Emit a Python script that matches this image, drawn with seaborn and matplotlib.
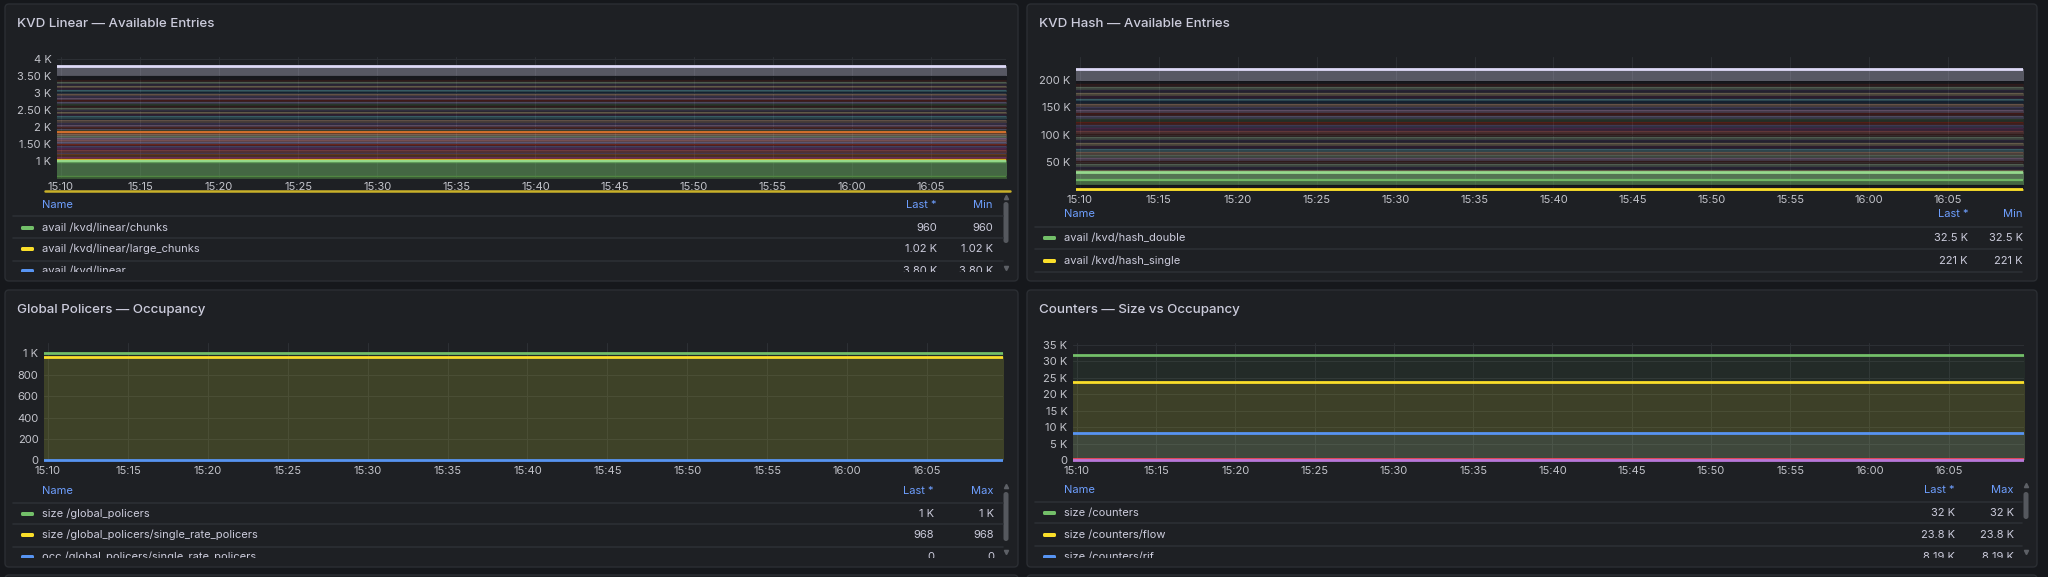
import numpy as np
import pandas as pd
import matplotlib
matplotlib.use("Agg")
import matplotlib.pyplot as plt
import matplotlib.dates as mdates
from matplotlib.ticker import FixedLocator, FixedFormatter
from matplotlib.patches import FancyBboxPatch
import seaborn as sns

W, H = 2048, 577

# ---- data (all series are flat over the hour) ----
t0 = pd.Timestamp("2024-05-14 15:09:45")
t1 = pd.Timestamp("2024-05-14 16:09:45")
times = pd.date_range("2024-05-14 15:09:00", "2024-05-14 16:10:00", freq="1min")

# KVD linear: available entries per partition, top to bottom
linear_levels = [3800, 3500, 3390, 3335, 3270, 3215, 3150, 3095, 3030, 2975, 2910,
                 2850, 2795, 2730, 2670, 2615, 2550, 2490, 2430, 2375, 2310, 2250,
                 2195, 2130, 2070, 2010, 1950, 1900, 1850, 1790, 1735, 1670, 1615,
                 1550, 1495, 1430, 1375, 1310, 1250, 1195, 1130, 1080, 1020, 990,
                 960, 560]
linear_stray = 120
linear_legend = ["avail /kvd/linear/chunks", "avail /kvd/linear/large_chunks", "avail /kvd/linear"]
linear_last = ["960", "1.02 K", "3.80 K"]
linear_min = ["960", "1.02 K", "3.80 K"]

# KVD hash
hash_levels = [221000, 199000, 193000, 187500, 182000, 177000, 171500, 166000, 161000,
               155500, 150000, 145000, 139500, 134000, 128500, 123000, 117500, 112000,
               106500, 101000, 95500, 90000, 84500, 79000, 73500, 68000, 62500, 57000,
               51500, 46500, 41000, 36500, 32500, 17000, 8000, 2000]
hash_legend = ["avail /kvd/hash_double", "avail /kvd/hash_single"]
hash_last = ["32.5 K", "221 K"]
hash_min = ["32.5 K", "221 K"]

# Global policers
policer_names = ["size /global_policers", "size /global_policers/single_rate_policers",
                 "occ /global_policers/single_rate_policers"]
policer_values = [1000, 968, 0]
policer_last = ["1 K", "968", "0"]
policer_max = ["1 K", "968", "0"]

# Counters
counter_names = ["size /counters", "size /counters/flow", "size /counters/rif",
                 "occ /counters/flow", "occ /counters/rif"]
counter_values = [32000, 23800, 8190, 450, 0]
counter_last = ["32 K", "23.8 K", "8.19 K"]
counter_max = ["32 K", "23.8 K", "8.19 K"]

linear_yticks = [1000, 1500, 2000, 2500, 3000, 3500, 4000]
linear_ylabels = ["1 K", "1.50 K", "2 K", "2.50 K", "3 K", "3.50 K", "4 K"]
hash_yticks = [50000, 100000, 150000, 200000]
hash_ylabels = ["50 K", "100 K", "150 K", "200 K"]
policer_yticks = [0, 200, 400, 600, 800, 1000]
policer_ylabels = ["0", "200", "400", "600", "800", "1 K"]
counter_yticks = [0, 5000, 10000, 15000, 20000, 25000, 30000, 35000]
counter_ylabels = ["0", "5 K", "10 K", "15 K", "20 K", "25 K", "30 K", "35 K"]

# ---- style ----
CANVAS = "#16181c"
PANEL = "#1e2024"
BORDER = "#2b2e33"
GRID = "#2c2f34"
TXT = "#ccccdc"
TICK = "#c3c4cb"
HEAD = "#6e9fff"
GREEN, YELLOW, BLUE, RED, PURPLE = "#73BF69", "#FADE2A", "#5794F2", "#F2495C", "#B877D9"

dark_mix = ["#58140C", "#B7DBAB", "#3F2B5B", "#F4D598", "#511749", "#70DBED", "#052B51",
            "#F9BA8F", "#614D93", "#E5A8E2", "#890F02", "#AEA2E0", "#3F6833"]
light_mix = ["#F9BA8F", "#B7DBAB", "#E5A8E2", "#F29191", "#AEA2E0"]
mid_mix = ["#BF1B00", "#806EB7", "#962D82", "#EA6460", "#705DA0", "#C15C17", "#BA43A9",
           "#E24D42", "#447EBC"]

sns.set_theme(style="dark")
plt.rcParams["font.family"] = ["Inter", "DejaVu Sans"]
plt.rcParams["grid.alpha"] = 1.0

fig = plt.figure(figsize=(W / 100, H / 100), dpi=100, facecolor=CANVAS)
bg = fig.add_axes([0, 0, 1, 1], zorder=0)
bg.set_xlim(0, W)
bg.set_ylim(H, 0)
bg.axis("off")

panels = [
    (5, 4, 1018, 281, "KVD Linear — Available Entries"),
    (1027, 4, 2037, 281, "KVD Hash — Available Entries"),
    (5, 290, 1018, 567, "Global Policers — Occupancy"),
    (1027, 290, 2037, 567, "Counters — Size vs Occupancy"),
    (5, 575, 1018, 640, ""),
    (1027, 575, 2037, 640, ""),
]
for x0, y0, x1, y1, title in panels:
    bg.add_patch(FancyBboxPatch((x0, y0), x1 - x0, y1 - y0,
                                boxstyle="round,pad=0,rounding_size=4",
                                fc=PANEL, ec=BORDER, lw=1))
    if title:
        bg.text(x0 + 12, y0 + 20, title, color=TXT, fontsize=9.6,
                fontweight="medium", va="center", ha="left")


def make_ax(l, t, r, b):
    ax = fig.add_axes([l / W, 1 - b / H, (r - l) / W, (b - t) / H], zorder=2)
    ax.set_facecolor("none")
    return ax


def style_ax(ax, ylim, yticks, ylabels):
    ax.set_xlim(t0, t1)
    ax.set_ylim(*ylim)
    ax.xaxis.set_major_locator(mdates.MinuteLocator(byminute=range(0, 60, 5)))
    ax.xaxis.set_major_formatter(mdates.DateFormatter("%H:%M"))
    ax.yaxis.set_major_locator(FixedLocator(yticks))
    ax.yaxis.set_major_formatter(FixedFormatter(ylabels))
    ax.tick_params(length=0, labelsize=8, colors=TICK, pad=4)
    ax.tick_params(axis="x", pad=3)
    ax.grid(True, color=GRID, lw=0.8, alpha=1)
    ax.set_axisbelow(True)
    for s in ax.spines.values():
        s.set_visible(False)
    ax.set_xlabel("")
    ax.set_ylabel("")


def draw_series(ax, values, lowers, colors, alphas, widths, line_alpha):
    for v, lo, c, a, w, la in zip(values, lowers, colors, alphas, widths, line_alpha):
        ax.fill_between(times, lo, v, color=c, alpha=a, lw=0)
        sns.lineplot(x=times, y=np.full(len(times), v), color=c, lw=w, alpha=la,
                     ax=ax, legend=False)


# ---- panel 1: KVD linear ----
ax1 = make_ax(57, 57, 1006, 178)
n_dark = 26
lin_colors = (["#DEDAF7", "#111217"] + [dark_mix[i % len(dark_mix)] for i in range(n_dark)]
              + ["#E0752D"] + [light_mix[i % len(light_mix)] for i in range(5)]
              + [mid_mix[i % len(mid_mix)] for i in range(8)]
              + [YELLOW, "#96D98D", GREEN, "#508642"])
lin_alpha = ([0.3, 0.45] + [0.17] * n_dark + [0.25] + [0.26] * 5 + [0.24] * 8
             + [0.35, 0.45, 0.45, 0.5])
lin_width = [2] + [1] * (len(linear_levels) - 1)
lin_width[28] = 1.6
lin_width[42] = 1.8
lin_width[43] = 1.4
lin_lalpha = [1, 0.5] + [0.18] * n_dark + [0.9] + [0.22] * 13 + [1, 1, 0.6, 1]
lin_lower = linear_levels[1:] + [0]
draw_series(ax1, linear_levels, lin_lower, lin_colors, lin_alpha, lin_width, lin_lalpha)
sns.lineplot(x=times, y=np.full(len(times), linear_stray), color="#c9b12a", lw=1.8, ax=ax1)
ax1.lines[-1].set_clip_on(False)
style_ax(ax1, (500, 4060), linear_yticks, linear_ylabels)

# ---- panel 2: KVD hash ----
ax2 = make_ax(1076, 57, 2023, 191)
n_hdark = len(hash_levels) - 6
hash_mix = dark_mix + mid_mix[:4] + dark_mix[:6] + light_mix[:3] + dark_mix
hash_colors = (["#DEDAF7", "#111217"] + hash_mix[:n_hdark]
               + ["#96D98D", GREEN, "#111217", YELLOW])
hash_alpha = [0.3, 0.45] + [0.18] * n_hdark + [0.45, 0.45, 0.5, 0.4]
hash_width = [2] + [1] * n_hdark + [1, 2, 1.6, 1, 2]
hash_lalpha = [1, 0.5] + [0.18] * n_hdark + [1, 0.9, 0.6, 1]
hash_lower = hash_levels[1:] + [-3000]
draw_series(ax2, hash_levels, hash_lower, hash_colors, hash_alpha, hash_width, hash_lalpha)
style_ax(ax2, (-2500, 242000), hash_yticks, hash_ylabels)

# ---- panel 3: global policers ----
ax3 = make_ax(44, 343, 1003, 462)
draw_series(ax3, policer_values, [0, 0, 0], [GREEN, YELLOW, BLUE],
            [0.07, 0.13, 0.1], [2, 2, 2], [1, 1, 1])
style_ax(ax3, (-15, 1095), policer_yticks, policer_ylabels)

# ---- panel 4: counters ----
ax4 = make_ax(1073, 343, 2024, 462)
draw_series(ax4, counter_values, [0] * 5, [GREEN, YELLOW, BLUE, RED, PURPLE],
            [0.07, 0.12, 0.1, 0.1, 0.1], [2, 2, 2, 2, 2], [1, 1, 1, 1, 1])
style_ax(ax4, (-600, 35600), counter_yticks, counter_ylabels)


# ---- legends (table style) ----
def legend_table(x0, x1, top, cut, header_y, rows_y, seps_y, names, colors,
                 col1, col2, head2, c1x, c2x, scroll=None):
    lax = fig.add_axes([x0 / W, 1 - cut / H, (x1 - x0) / W, (cut - top) / H], zorder=3)
    lax.set_xlim(x0, x1)
    lax.set_ylim(cut, top)
    lax.axis("off")
    sx = x0 + 16
    lax.text(sx + 21, header_y, "Name", color=HEAD, fontsize=8, va="center", clip_on=True)
    lax.text(c1x, header_y, "Last *", color=HEAD, fontsize=8, va="center", ha="right", clip_on=True)
    lax.text(c2x, header_y, head2, color=HEAD, fontsize=8, va="center", ha="right", clip_on=True)
    for y in seps_y:
        lax.plot([x0 + 8, x1 - 15], [y, y], color=GRID, lw=1.2, clip_on=False)
    for y, n, c, a, b in zip(rows_y, names, colors, col1, col2):
        lax.add_patch(FancyBboxPatch((sx, y - 2), 13, 4, boxstyle="round,pad=0,rounding_size=1.5",
                                     fc=c, ec="none", clip_on=True))
        lax.text(sx + 21, y, n, color=TXT, fontsize=8, va="center", clip_on=True)
        lax.text(c1x, y, a, color=TXT, fontsize=8, va="center", ha="right", clip_on=True)
        lax.text(c2x, y, b, color=TXT, fontsize=8, va="center", ha="right", clip_on=True)
    if scroll:
        sxp, ty0, ty1, a_up, a_dn = scroll
        bg.add_patch(FancyBboxPatch((sxp - 2.5, ty0), 5, ty1 - ty0,
                                    boxstyle="round,pad=0,rounding_size=2.5",
                                    fc="#55585e", ec="none", zorder=4))
        bg.plot([sxp], [a_up], marker="^", ms=3, color="#5d6066", zorder=4)
        bg.plot([sxp], [a_dn], marker="v", ms=3, color="#5d6066", zorder=4)


legend_table(5, 1018, 196, 272, 205, [228, 249, 271], [216, 238, 261],
             linear_legend, [GREEN, YELLOW, BLUE], linear_last, linear_min, "Min",
             937, 993, scroll=(1006, 202, 243, 197, 268))
legend_table(1027, 2037, 204, 280, 214, [238, 261], [227, 249, 272],
             hash_legend, [GREEN, YELLOW], hash_last, hash_min, "Min", 1968, 2023)
legend_table(5, 1018, 482, 558, 491, [514, 535, 557], [503, 524, 547],
             policer_names, [GREEN, YELLOW, BLUE], policer_last, policer_max, "Max",
             934, 994, scroll=(1006, 492, 541, 486, 552))
legend_table(1027, 2037, 481, 558, 490, [513, 535, 557], [502, 523, 546],
             counter_names[:3], [GREEN, YELLOW, BLUE], counter_last, counter_max, "Max",
             1955, 2014, scroll=(2026, 492, 519, 485, 552))

fig.savefig("out.png", dpi=100, facecolor=CANVAS)
